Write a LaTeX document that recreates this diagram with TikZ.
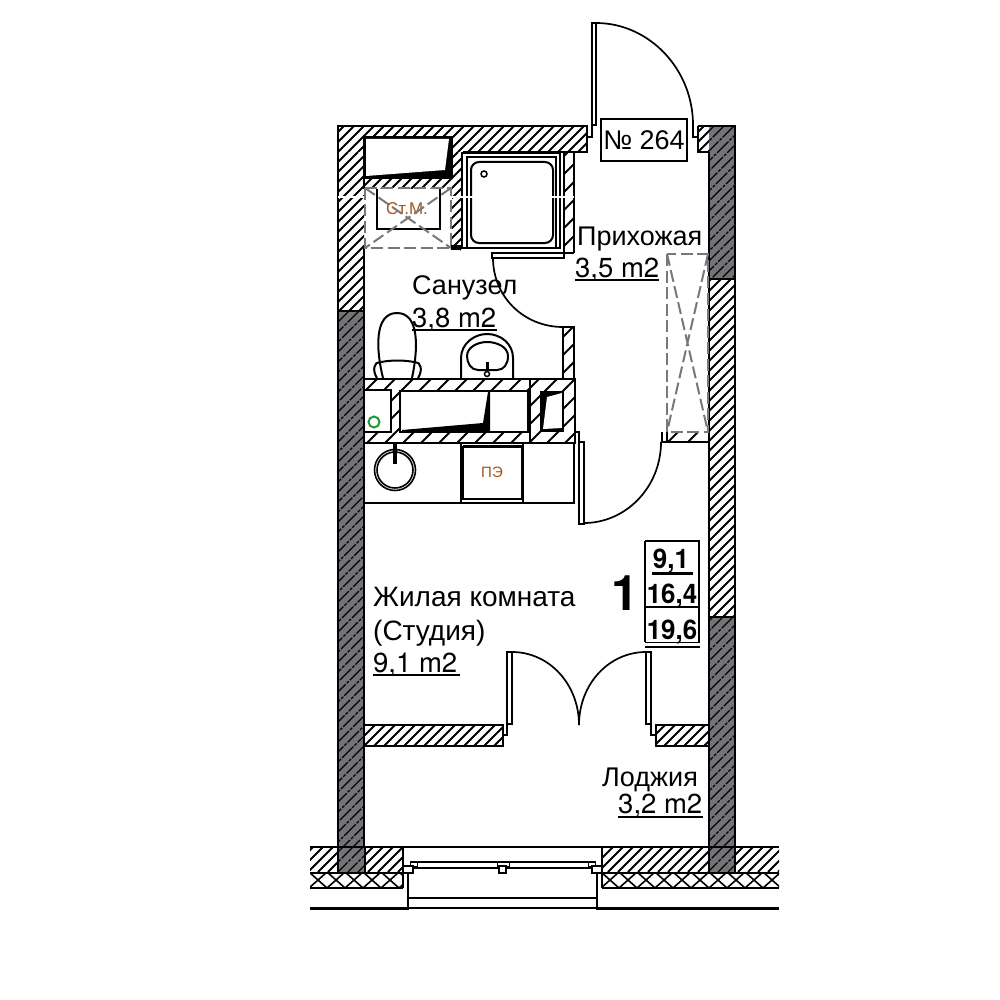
\documentclass[tikz,border=0pt]{standalone}
\usepackage{fontspec}
\setmainfont{Liberation Sans}
\newfontfamily\heros{TeX Gyre Heros}
\definecolor{wallgray}{HTML}{737478}
\definecolor{dashgray}{HTML}{77787B}
\definecolor{brownlabel}{HTML}{A6541C}
\definecolor{ringgreen}{HTML}{1E9A36}
% [spacing]{x1}{y1}{x2}{y2}: white wall hatch, no border, common phase
\newcommand{\hatchfill}[5][10]{%
  \begin{scope}
    \clip (#2,#3) rectangle (#4,#5);
    \pgfmathsetmacro{\hfirst}{floor((#2+#3)/#1)*#1}
    \pgfmathsetmacro{\hsecond}{\hfirst+#1}
    \pgfmathsetmacro{\hlast}{#4+#5+#1}
    \foreach \s in {\hfirst,\hsecond,...,\hlast}{
      \draw[line width=1.9pt] (\s-#3,#3) -- (\s-#5,#5);
    }
  \end{scope}
}
\newcommand{\grayhatch}[4]{%
  \fill[wallgray] (#1,#2) rectangle (#3,#4);
  \begin{scope}
    \clip (#1,#2) rectangle (#3,#4);
    \pgfmathsetmacro{\hfirst}{floor((#1+#2)/10)*10}
    \pgfmathsetmacro{\hsecond}{\hfirst+10}
    \pgfmathsetmacro{\hlast}{#3+#4+10}
    \foreach \s in {\hfirst,\hsecond,...,\hlast}{
      \draw[line width=1.2pt,dash pattern=on 16pt off 1.5pt on 3pt off 1.5pt] (\s-#2,#2) -- (\s-#4,#4);
    }
  \end{scope}
}
\tikzset{
  wall/.style={line width=2.6pt,line join=miter},
  thin line/.style={line width=1.5pt},
  thick line/.style={line width=2pt},
  leaf/.style={line width=1.6pt,fill=white},
  swing/.style={line width=1.7pt},
  furn/.style={line width=2pt,fill=white},
  gdash/.style={draw=dashgray,line width=2pt,dash pattern=on 12pt off 4.5pt},
  lbl/.style={inner sep=0pt,anchor=base west,font=\fontsize{27}{27}\selectfont},
  lblb/.style={inner sep=0pt,anchor=base west,font=\fontsize{28}{28}\selectfont},
  area/.style={inner sep=0pt,anchor=base west,font=\fontsize{27.5}{27.5}\heros},
  nr/.style={inner sep=0pt,anchor=base,font=\fontsize{27}{27}\heros\bfseries,xscale=.96},
}
\begin{document}
\begin{tikzpicture}[x=1pt,y=-1pt]
\useasboundingbox (0,0) rectangle (1000,1000);
\fill[white] (0,0) rectangle (1000,1000);

% --- outer walls
\hatchfill{338}{126}{587}{152}
\hatchfill{338}{152}{364}{311}
\hatchfill{452}{152}{461}{250}
\grayhatch{338}{311}{364}{872}
\grayhatch{709}{126}{735}{279}
\hatchfill{709}{279}{735}{617}
\grayhatch{709}{617}{735}{872}
\hatchfill{698}{126}{709}{152}
\draw[wall] (364,311) -- (364,725) (364,746) -- (364,847) (709,152) -- (709,725) (709,746) -- (709,847);
\draw[wall] (338,872) -- (338,126) -- (587,126) -- (587,152) -- (463,152);
\draw[wall] (364,248) -- (364,311);
\draw[wall] (364,137) -- (364,189);
\draw[wall] (698,126) -- (735,126) -- (735,872);
\draw[wall] (698,126) -- (698,152) -- (709,152);
\draw[line width=1.5pt] (338,311) -- (364,311) (709,279) -- (735,279) (709,617) -- (735,617);

% --- bottom slab
\hatchfill{310}{847}{338}{872}
\hatchfill{365}{847}{403}{872}
\hatchfill{602}{847}{709}{872}
\hatchfill{735}{847}{779}{872}
\grayhatch{338}{847}{365}{872}
\grayhatch{709}{847}{735}{872}
\draw[wall] (338,847) -- (338,872) (365,847) -- (365,872) (709,847) -- (709,872) (735,847) -- (735,872);
\foreach \a/\b in {310/403,602/779}{
  \begin{scope}
    \clip (\a,873) rectangle (\b,888);
    \foreach \k in {0,...,10}{
      \draw[line width=1.6pt] (\a+\k*18-1,872) -- (\a+\k*18+17,888);
      \draw[line width=1.6pt] (\a+\k*18+17,872) -- (\a+\k*18-1,888);
    }
  \end{scope}
  \draw[wall] (\a,847) -- (\b,847) (\a,873) -- (\b,873) (\a,888) -- (\b,888);
}
\draw[line width=3pt] (310,908) -- (409,908) (596,908) -- (779,908);
\draw[wall] (403,847) -- (403,867) (602,847) -- (602,867);
\draw[line width=1.3pt] (403,888) -- (403,873) (602,888) -- (602,873);
\draw[thick line] (403,847) -- (602,847);
\draw[line width=2.6pt] (408,870) -- (408,908) (597,870) -- (597,908);
\draw[thin line] (408,898) -- (597,898) (408,908) -- (597,908);
\draw[line width=2pt] (411,862) rectangle (595,868);
\draw[line width=1pt,fill=white] (410,862) rectangle (417,866) (588,862) rectangle (595,866) (497,862) rectangle (509,866);
\draw[thin line,fill=white] (403,866) rectangle (413,873) (592,866) rectangle (602,873) (499,866) rectangle (506,873);

% --- entrance door
\draw[thin line] (587,137) -- (592,137) -- (592,125);
\draw[thin line] (693,125) -- (693,137) -- (698,137);
\draw[leaf] (592,23) rectangle (596,125);
\draw[swing] (596,23) .. controls (649,23) and (693,69) .. (693,125);
\draw[thick line,fill=white] (601,119) rectangle (687,161);
\node[lbl,anchor=base] (plate) at (644,150) {№ 264};

% --- niche
\fill (364,137) rectangle (452,178);
\fill[white] (366,139) -- (449,139) -- (445,170) -- (366,176) -- cycle;
\hatchfill{364}{178}{452}{189}
\draw[wall] (364,137) -- (452,137) -- (452,178) -- (364,178);

% --- meter cupboard
\fill[white] (365,189) rectangle (451,248);
\draw[thick line] (377,189) -- (377,229) -- (440,229) -- (440,189);
\node[inner sep=0pt,text=brownlabel,font=\fontsize{17}{17}\selectfont] (meter) at (407,209) {Ст.М.};
\draw[gdash] (365,188) rectangle (451,248);
\draw[gdash] (365,188) -- (451,248) (451,188) -- (365,248);
\fill[black] (451,245) rectangle (461,250);

% --- shower
\draw[thick line,fill=white] (462,153) rectangle (560,248);
\draw[thin line] (467,157) rectangle (556,248);
\draw[thick line,rounded corners=8pt] (471,162) rectangle (553,243);
\draw[thin line] (484,174) circle[radius=3];
\hatchfill[18]{564}{152}{574}{253}
\draw[thick line] (564,152) -- (564,253) (574,152) -- (574,253);
\draw[white,line width=1.2pt] (338,197) -- (364,197) (451,197) -- (574,197);

% --- bath door
\draw[leaf] (492,253) rectangle (564,258);
\draw[thick line] (564,253) -- (574,253);
\draw[swing] (493,258) .. controls (493,297) and (524,327) .. (563,327);
\hatchfill[18]{563}{327}{574}{380}
\draw[thick line] (563,380) -- (563,327) -- (574,327) -- (574,380);

% --- toilet
\draw[line width=2pt] (377,378) .. controls (372,370) and (374,362) .. (380,362) (418,378) .. controls (423,370) and (421,362) .. (415,362);
\draw[line width=2pt] (383,378) .. controls (376,350) and (374,313) .. (397,313) .. controls (420,313) and (418,350) .. (412,378);
\draw[line width=2pt] (381,362) .. controls (392,360) and (403,360) .. (414,362);
% --- sink
\draw[furn] (461,378) -- (461,358) .. controls (461,344) and (474,334) .. (487,334) .. controls (501,334) and (513,344) .. (513,358) -- (513,378);
\draw[thick line] (478,370) .. controls (471,370) and (467,363) .. (467,356) .. controls (467,347) and (478,342) .. (487,342) .. controls (497,342) and (508,347) .. (508,356) .. controls (508,364) and (504,370) .. (497,370) -- cycle;
\draw[line width=3pt] (487,362) -- (487,370);
\draw[thin line,fill=white] (487,374) circle[radius=2.5];

% --- service band
\hatchfill[18]{364}{379}{575}{443}
\draw[wall] (364,379) -- (575,379) -- (575,443) -- (364,443);
\draw[thick line] (530,379) -- (530,443);
\draw[thick line,fill=white] (364,390) rectangle (391,432);
\draw[line width=2pt,ringgreen] (374,422) circle[radius=5.5];
\draw[thick line,fill=white] (400,391) rectangle (528,432);
\fill (488,392) -- (490,392) -- (490,431) -- (402,431) -- (402,430) -- (483,423) -- cycle;
\fill (540,391) rectangle (563,431);
\fill[white] (547,397) -- (562,393) -- (562,428) -- (543,429) -- cycle;
\draw[thin line] (563,391) -- (563,431) -- (540,431);

% --- kitchen
\draw[thick line,fill=white] (364,443) rectangle (574,503);
\draw[thick line] (461,443) -- (461,503) (523,443) -- (523,503);
\draw[line width=1.5pt] (463,447) rectangle (522,499);
\draw[line width=2.6pt] (463,446) -- (522,446) (463,499) -- (522,499);
\node[inner sep=0pt,text=brownlabel,font=\fontsize{15}{15}\selectfont] (stove) at (492,472) {ПЭ};
\draw[line width=1.6pt] (395,470) circle[radius=20.5] (395,470) circle[radius=18];
\draw[line width=3.5pt] (395,443) -- (395,464);

% --- hall door and wardrobe
\draw[thin line] (574,432) -- (579,432) -- (579,442);
\draw[leaf] (579,442) rectangle (584,524);
\draw[swing] (584,523) .. controls (626,523) and (661,487) .. (661,442);
\begin{scope}
  \clip (662,432) rectangle (708,442);
  \foreach \k in {0,1,2}{\draw[line width=2pt] (668+\k*20,442) -- (678+\k*20,432);}
\end{scope}
\draw[thick line] (662,442) -- (708,442) (662,432) -- (662,442) (667,432) -- (667,442);
\draw[gdash] (667,254) rectangle (708,432);
\draw[gdash] (667,254) -- (708,432) (708,254) -- (667,432);

% --- balcony wall and doors
\hatchfill{364}{725}{503}{746}
\hatchfill{656}{725}{708}{746}
\draw[wall] (364,725) rectangle (503,746) (656,725) rectangle (709,746);
\draw[thin line] (503,735) -- (507,735) -- (507,725);
\draw[thin line] (651,725) -- (651,735) -- (656,735);
\draw[leaf] (507,652) rectangle (512,724);
\draw[leaf] (646,652) rectangle (651,724);
\draw[swing] (512,652) .. controls (549,652) and (579,684) .. (579,725);
\draw[swing] (646,652) .. controls (609,652) and (579,684) .. (579,725);

% --- table
\draw[thick line] (645,541) -- (699,541) -- (699,642) (645,541) -- (645,642);
\draw[wall] (645,607) -- (699,607);
\draw[line width=1.8pt] (645,642.5) -- (700,642.5) (645,647) -- (700,647);
\draw[line width=3pt] (652,573) -- (693,573);
\node[nr] (areaA) at (671,568) {9,1};
\node[nr] (areaB) at (672,603) {16,4};
\node[nr] (areaC) at (672,639) {19,6};
\node[inner sep=0pt,anchor=base,font=\fontsize{49}{49}\heros\bfseries] (one) at (625,610) {1};

% --- labels
\node[lbl] (hall) at (577,245) {Прихожая};
\node[area] (hallA) at (575,277) {3,5 m2};
\draw[thin line] (hallA.base west) ++(0,3) -- ++(84,0);
\node[lbl] (bath) at (412,294) {Санузел};
\node[area] (bathA) at (412,327) {3,8 m2};
\draw[thin line] (bathA.base west) ++(0,3) -- ++(85,0);
\node[lblb] (room) at (373,606) {Жилая комната};
\node[lblb] (roomB) at (373,640) {(Студия)};
\node[area] (roomA) at (373,672) {9,1 m2};
\draw[thin line] (roomA.base west) ++(0,3) -- ++(87,0);
\node[lbl] (logg) at (602,786) {Лоджия};
\node[area] (loggA) at (618,813) {3,2 m2};
\draw[thin line] (loggA.base west) ++(0,4) -- ++(85,0);
\end{tikzpicture}
\end{document}
